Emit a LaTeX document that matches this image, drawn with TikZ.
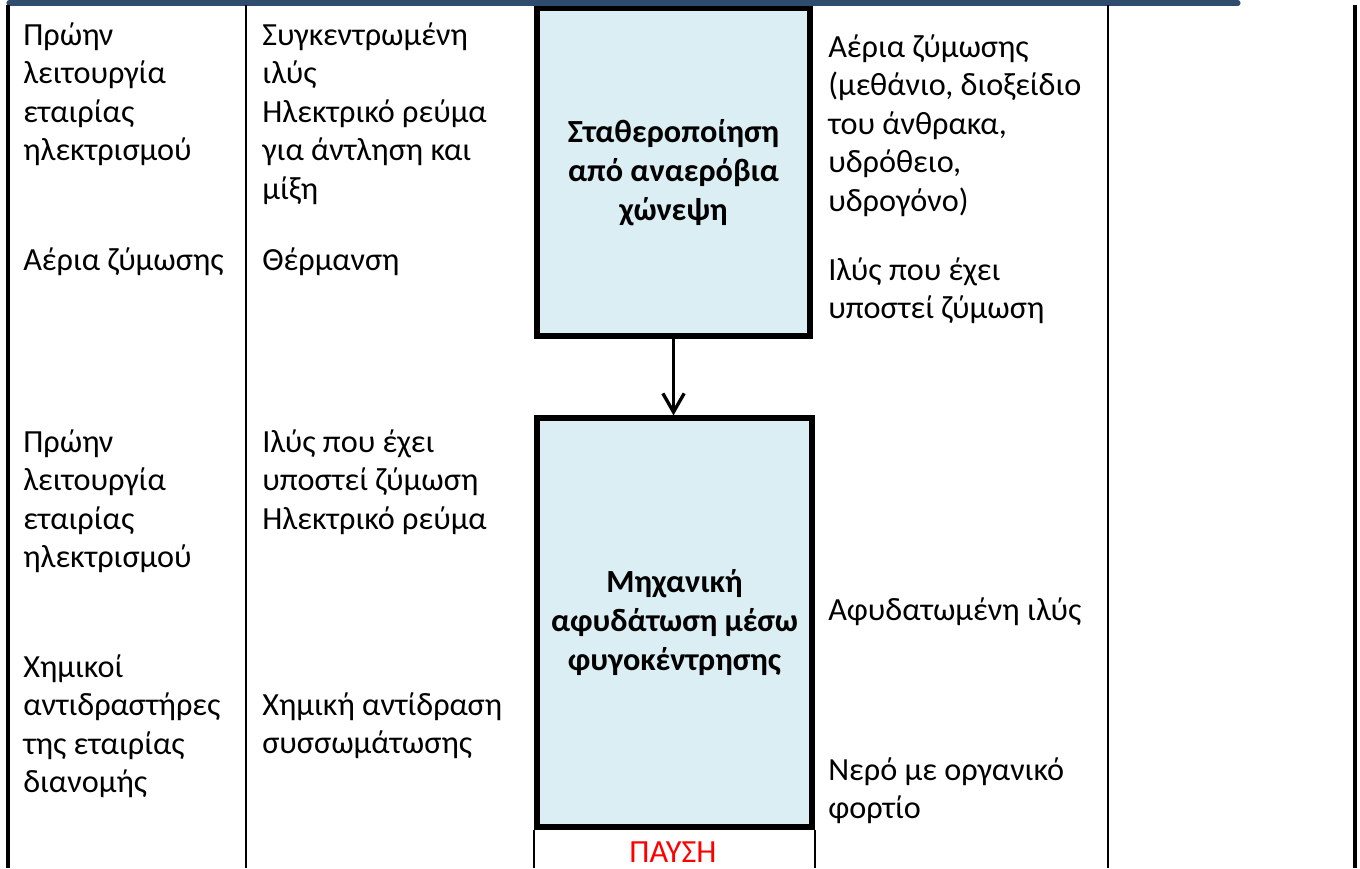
\documentclass[tikz,border=0pt]{standalone}
\usepackage{fontspec}
\setmainfont{Carlito}
\usetikzlibrary{arrows.meta}
\definecolor{boxfill}{HTML}{DAEEF3}
\definecolor{headline}{HTML}{2F4B6E}
\definecolor{stopred}{HTML}{FF0000}
\tikzset{
  txt/.style={anchor=north west, inner sep=0pt, align=left,
    font=\fontsize{24.2pt}{28.9pt}\selectfont},
  procbox/.style={draw=black, line width=3.9pt, fill=boxfill, inner sep=0pt,
    align=center, font=\fontsize{24.2pt}{29.3pt}\selectfont\bfseries},
  thin/.style={draw=black, line width=1.6pt},
  frame/.style={draw=black, line width=2.6pt},
  flow/.style={draw=black, line width=2.5pt, -{Straight Barb[length=14pt,width=16pt,line width=2.5pt]}}
}
\begin{document}
\begin{tikzpicture}[x=0.75pt,y=-0.75pt]
\useasboundingbox (0,0) rectangle (1360,868);
% header rule
\draw[headline, line width=3.8pt, line cap=round] (9,3) -- (1238,3);
% table lines
\draw[frame] (8,5) -- (8,868);
\draw[thin] (246,5) -- (246,868);
\draw[thin] (1108,5) -- (1108,868);
\draw[frame, line width=3pt] (1355,5) -- (1355,868);
% process boxes
\node[procbox, minimum width=204.75pt, minimum height=245.6pt] (b1) at (673.5,172.25)
  {Σταθεροποίηση\\από αναερόβια\\χώνεψη};
\node[procbox, minimum width=206.25pt, minimum height=306.75pt] (b2) at (674.5,622.5)
  {Μηχανική\\αφυδάτωση μέσω\\φυγοκέντρησης};
\draw[flow] (b1.south) -- (b1.south |- b2.north);
% stop cell
\draw[thin] (b2.south west) -- (b2.south west |- 0,868);
\draw[thin] (b2.south east) -- (b2.south east |- 0,868);
\node[font=\fontsize{24.2pt}{28.9pt}\selectfont, text=stopred, inner sep=0pt, anchor=base] (stop) at (673,862) {ΠΑΥΣΗ};
% column 1
\node[txt] (a1) at (23,18) {\strut Πρώην\\λειτουργία\\εταιρίας\\ηλεκτρισμού};
\node[txt] (a2) at (23,243) {\strut Αέρια ζύμωσης};
\node[txt] (a3) at (23,425) {\strut Πρώην\\λειτουργία\\εταιρίας\\ηλεκτρισμού};
\node[txt] (a4) at (23,650) {\strut Χημικοί\\αντιδραστήρες\\της εταιρίας\\διανομής};
% column 2
\node[txt] (c1) at (262,18) {\strut Συγκεντρωμένη\\ιλύς\\Ηλεκτρικό ρεύμα\\για άντληση και\\μίξη};
\node[txt] (c2) at (262,243) {\strut Θέρμανση};
\node[txt] (c3) at (262,425) {\strut Ιλύς που έχει\\υποστεί ζύμωση\\Ηλεκτρικό ρεύμα};
\node[txt] (c4) at (262,688) {\strut Χημική αντίδραση\\συσσωμάτωσης};
% column 4
\node[txt] (d1) at (828,30) {\strut Αέρια ζύμωσης\\(μεθάνιο, διοξείδιο\\του άνθρακα,\\υδρόθειο,\\υδρογόνο)};
\node[txt] (d2) at (828,253) {\strut Ιλύς που έχει\\υποστεί ζύμωση};
\node[txt] (d3) at (828,593) {\strut Αφυδατωμένη ιλύς};
\node[txt] (d4) at (828,753) {\strut Νερό με οργανικό\\φορτίο};
\end{tikzpicture}
\end{document}
